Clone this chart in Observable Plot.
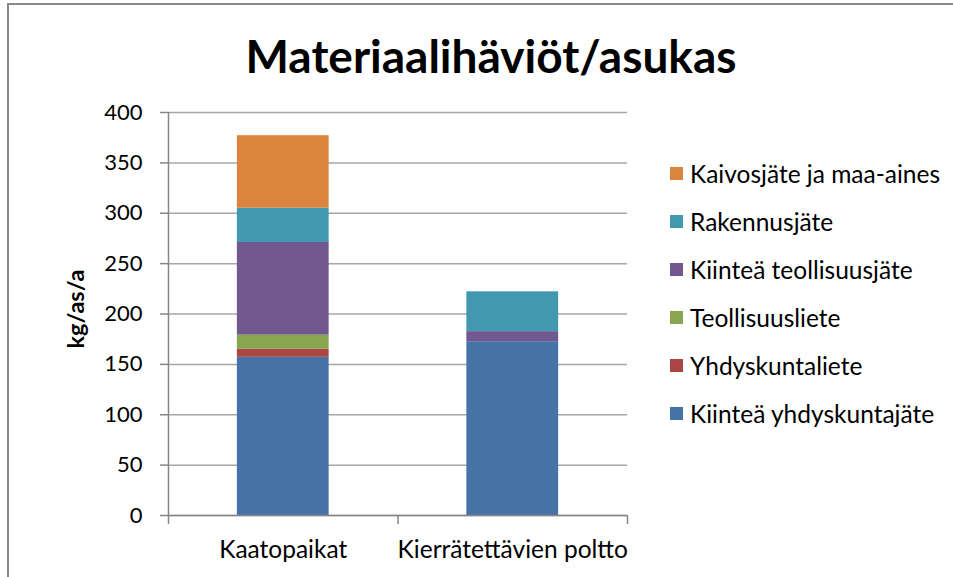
<!DOCTYPE html>
<html><head><meta charset="utf-8">
<script src="https://cdn.jsdelivr.net/npm/d3@7"></script>
<script src="https://cdn.jsdelivr.net/npm/@observablehq/plot@0.6"></script>
<style>
html,body{margin:0;padding:0;background:#fff;overflow:hidden;}
#wrap{position:relative;width:953px;height:577px;font-family:Lato, sans-serif;overflow:hidden;}
#border{position:absolute;left:7px;top:3px;width:960px;height:600px;border:2px solid #898989;box-sizing:border-box;}
#title{position:absolute;left:0;width:982px;top:27px;text-align:center;font-weight:bold;font-size:46px;line-height:58px;color:#000;}
#chart{position:absolute;left:0;top:0;}
#legend{position:absolute;left:670px;top:149.5px;}
.item{height:48px;display:flex;align-items:center;font-size:24.5px;color:#000;white-space:nowrap;}
.sw{width:13px;height:13px;margin-right:7px;flex:none;}
</style>
</head><body>
<div id="wrap">
  <div id="border"></div>
  <div id="chart"></div>
  <div id="title">Materiaalihäviöt/asukas</div>
  <div id="legend"></div>
</div>
<script>
const categories = ["Kaatopaikat", "Kierrätettävien poltto"];
const series = ["Kiinteä yhdyskuntajäte", "Yhdyskuntaliete", "Teollisuusliete", "Kiinteä teollisuusjäte", "Rakennusjäte", "Kaivosjäte ja maa-aines"];
const kaatopaikat = [157, 8, 14, 92, 34, 72];
const kierratettavienPoltto = [172.5, 0, 0, 10, 39.5, 0];
const colors = ["#4572A7", "#AA4643", "#89A54E", "#71588F", "#4198AF", "#DB843D"];
const yTicks = [0, 50, 100, 150, 200, 250, 300, 350, 400];
const yLabel = "kg/as/a";

const data = [];
[kaatopaikat, kierratettavienPoltto].forEach((vals, i) =>
  vals.forEach((v, j) => data.push({i, category: categories[i], series: series[j], value: v})));

const axisColor = "#868686";
const chart = Plot.plot({
  width: 953, height: 577,
  marginLeft: 168, marginRight: 326, marginTop: 112, marginBottom: 62,
  style: {fontFamily: "Lato, sans-serif", fontSize: "22px", color: "#000", background: "transparent"},
  x: {domain: [0, 2], axis: null},
  y: {domain: [0, 400], axis: null},
  color: {domain: series, range: colors},
  marks: [
    Plot.gridY(yTicks, {stroke: "#a6a6a6", strokeOpacity: 1, strokeWidth: 1.5}),
    Plot.rectY(data, {x1: d => d.i + 0.3, x2: d => d.i + 0.7, y: "value", fill: "series"}),
    Plot.ruleX([0], {stroke: axisColor, strokeWidth: 1.5}),
    Plot.ruleY([0], {stroke: axisColor, strokeWidth: 1.5}),
    Plot.axisY({ticks: yTicks, tickSize: 8, tickPadding: 18, stroke: axisColor, strokeWidth: 1.5, fontSize: 22, label: null, fill: "#000"}),
    Plot.axisX({ticks: [0, 1, 2], tickSize: 9, tickFormat: () => "", label: null, stroke: axisColor, strokeWidth: 1.5}),
    Plot.text(categories, {x: (d, i) => i + 0.5, y: 0, dy: 35, fontSize: 24.5, fill: "#000"}),
    Plot.text([yLabel], {frameAnchor: "left", textAnchor: "middle", rotate: -90, dx: -92, dy: -5, fontWeight: "bold", fontSize: 23.5, fill: "#000"})
  ]
});
document.getElementById("chart").append(chart);

const legend = document.getElementById("legend");
for (let j = series.length - 1; j >= 0; j--) {
  const it = document.createElement("div");
  it.className = "item";
  const sw = document.createElement("div");
  sw.className = "sw";
  sw.style.background = colors[j];
  const t = document.createElement("span");
  t.textContent = series[j];
  it.append(sw, t);
  legend.append(it);
}
</script>
</body></html>
